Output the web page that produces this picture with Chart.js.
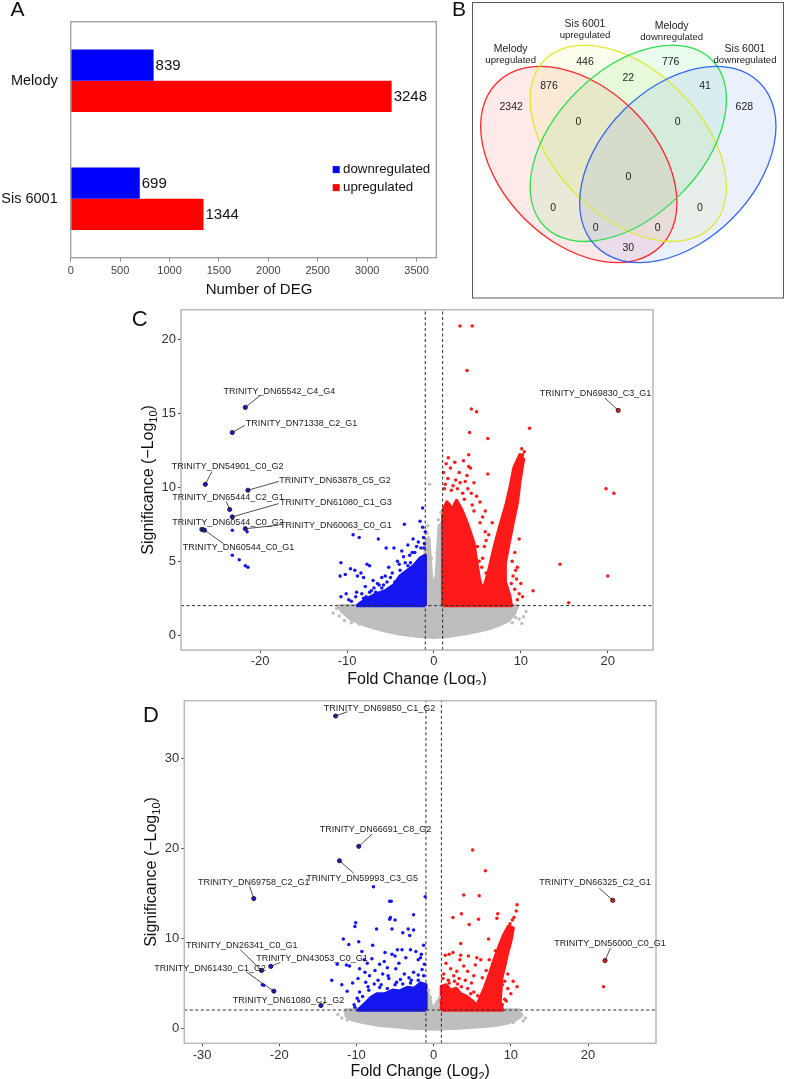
<!DOCTYPE html>
<html>
<head>
<meta charset="utf-8">
<script src="https://cdn.jsdelivr.net/npm/chart.js@4.4.0/dist/chart.umd.min.js"></script>
<style>
  html, body { margin: 0; padding: 0; background: #fff; }
  body { width: 785px; height: 1079px; position: relative; overflow: hidden; }
  canvas { position: absolute; }
</style>
</head>
<body>
<canvas id="barA" width="470" height="300" style="left:0;top:0"></canvas>
<canvas id="vennB" width="320" height="302" style="left:465px;top:0"></canvas>
<canvas id="volC" width="785" height="385" style="left:0;top:300px"></canvas>
<canvas id="volD" width="785" height="394" style="left:0;top:685px"></canvas>
<script>
// ---------- A: number of DEG ----------
const samples = ['Melody', 'Sis 6001'];
const downCounts = [839, 699];
const upCounts = [3248, 1344];
const degTicks = [0, 500, 1000, 1500, 2000, 2500, 3000, 3500];
const degMax = 3700;

// ---------- B: venn ----------
const setNames = [['Melody', 'upregulated'], ['Sis 6001', 'upregulated'], ['Melody', 'downregulated'], ['Sis 6001', 'downregulated']];
const vennCounts = [2342, 876, 446, 22, 776, 41, 628, 0, 0, 0, 0, 0, 0, 0, 30];

// ---------- C: Melody volcano ----------
const fcCut = 1;
const sigCut = 2;
const fcTicksC = [-20, -10, 0, 10, 20];
const sigTicksC = [0, 5, 10, 15, 20];
const cGenes = ['TRINITY_DN65542_C4_G4', 'TRINITY_DN71338_C2_G1', 'TRINITY_DN54901_C0_G2', 'TRINITY_DN63878_C5_G2',
  'TRINITY_DN65444_C2_G1', 'TRINITY_DN61080_C1_G3', 'TRINITY_DN60544_C0_G2', 'TRINITY_DN60063_C0_G1',
  'TRINITY_DN60544_C0_G1', 'TRINITY_DN69830_C3_G1'];
const cGeneFC = [-21.7, -23.2, -26.3, -21.4, -23.5, -23.2, -26.7, -21.7, -26.4, 21.2];
const cGeneSig = [15.4, 13.7, 10.2, 9.8, 8.5, 8.0, 7.15, 7.2, 7.1, 15.2];
const cGray = [[-11.2, 1.8], [-10.9, 1.3], [-10.3, 1.0], [-9.5, 0.85], [-8.6, 0.75], [-11.6, 1.5], [9.8, 1.1], [10.3, 1.25],
  [10.1, 0.8], [9.4, 1.2], [9.0, 0.85], [10.6, 1.6], [-0.5, 10.2], [0.5, 7.8], [0.6, 7.0], [-0.7, 7.4], [-0.8, 6.9],
  [0.8, 8.3], [-0.3, 5.2], [0.35, 5.6]];
const cGrayDense = [[-11, 2], [-10.6, 1.6], [-9.6, 1.1], [-8, 0.7], [-6, 0.35], [-4, 0.1], [-2, -0.05], [0, -0.15], [2, -0.05],
  [4, 0.15], [6, 0.4], [7.5, 0.7], [8.6, 1.0], [9.3, 1.5], [9.6, 2], [1, 2], [1, 7.6], [0.6, 7.4], [0.3, 4.2], [0, 3],
  [-0.3, 4], [-0.6, 6.6], [-1, 6.2], [-1, 2]];
const cBlue = [[-23.2, 7.1], [-21.5, 7.0], [-23.2, 5.4], [-22.4, 5.1], [-21.7, 4.7], [-21.4, 4.6],
  [-9.3, 6.8], [-8.6, 6.6], [-6.4, 6.5], [-5.5, 5.9], [-10.7, 4.9], [-10.8, 4.0], [-10.2, 4.1], [-9.6, 4.5], [-9.1, 4.4],
  [-8.8, 4.0], [-8.4, 4.2], [-7.7, 4.8], [-8.1, 3.9], [-10.7, 2.6], [-10.1, 2.8], [-7.4, 4.7], [-6.9, 3.2], [-6.5, 3.5],
  [-7.2, 3.0], [-6.0, 3.9], [-5.8, 3.4], [-5.2, 4.6], [-4.8, 4.2], [-7.8, 2.6], [-9.5, 2.3], [-9.0, 2.6], [-8.3, 2.8],
  [-6.2, 2.4], [-1.3, 8.6], [-1.6, 7.7], [-3.4, 7.5], [-1.0, 7.0], [-2.4, 6.5], [-1.2, 6.6], [-4.6, 5.9], [-3.7, 5.7],
  [-2.8, 5.4], [-4.2, 5.0], [-3.3, 4.9], [-2.0, 6.0], [-5.6, 4.0], [-4.5, 3.6], [-3.9, 4.4], [-6.7, 2.9], [-5.0, 2.7],
  [-4.4, 2.9], [-3.0, 4.7], [-2.5, 5.6], [-1.8, 6.3], [-1.1, 6.2], [-1.15, 5.9], [-1.3, 7.3],
  [-7.9, 3.3], [-7.0, 3.7], [-6.3, 3.4], [-5.4, 3.6], [-8.9, 2.9], [-9.8, 2.4], [-3.5, 5.3], [-4.0, 4.8], [-2.2, 5.6],
  [-1.5, 5.9], [-5.0, 3.9], [-6.0, 3.2], [-7.4, 2.9], [-8.1, 2.5], [-3.0, 6.1], [-2.7, 4.9]];
const cBlueDense = [[-1, 2], [-1, 5.4], [-1.6, 5.2], [-2.3, 4.7], [-3, 4.4], [-3.9, 4.0], [-4.6, 3.4], [-5.6, 3.0],
  [-6.6, 2.8], [-7.6, 2.5], [-8.4, 2.2], [-8.8, 2]];
const cRed = [[3.0, 20.9], [4.4, 20.9], [3.8, 17.9], [4.3, 15.3], [4.9, 15.1], [4.1, 13.7], [6.2, 13.3], [11.0, 14.0],
  [19.8, 9.9], [20.7, 9.6], [14.5, 4.8], [20.0, 4.0], [15.5, 2.2], [11.4, 3.0], [1.65, 12.0], [4.2, 11.3], [4.0, 11.4],
  [3.8, 10.8], [2.5, 10.5], [3.0, 10.3], [6.2, 10.9], [5.9, 8.4], [6.7, 7.6], [4.9, 9.4], [5.3, 7.6], [5.9, 7.0],
  [6.0, 6.4], [5.0, 6.0], [10.1, 12.6], [10.4, 12.4], [10.2, 12.2], [9.9, 11.4], [1.3, 10.2], [2.0, 9.8], [4.6, 8.4],
  [4.4, 8.8], [9.3, 3.1], [9.8, 2.8], [9.6, 4.6], [10.0, 3.5], [9.1, 4.0], [9.5, 3.8], [6.9, 5.0], [7.1, 3.6], [3.5, 9.2],
  [1.8, 8.8], [5.6, 5.2], [5.2, 5.0], [9.7, 11.9],
  [1.2, 9.9], [1.6, 10.6], [2.2, 10.1], [2.7, 9.9], [3.3, 9.6], [3.9, 9.9], [4.3, 9.6], [3.6, 10.4], [2.9, 11.0],
  [1.9, 11.3], [4.6, 10.3], [1.1, 11.0], [2.4, 11.7], [3.4, 11.8], [4.0, 12.2], [1.4, 11.6], [5.3, 9.0], [5.6, 8.0],
  [5.8, 6.0], [6.3, 6.8], [5.5, 4.6], [6.0, 4.2], [9.0, 5.0], [9.3, 5.6], [9.8, 6.5], [8.9, 3.5], [9.6, 2.4], [10.2, 2.6],
  [9.4, 4.4]];
const cRedDense = [[1, 2], [1, 8.4], [1.5, 9.0], [2.1, 8.5], [2.6, 9.1], [3.1, 8.6], [3.6, 7.9], [4.1, 7.1], [4.6, 6.2],
  [4.9, 5.0], [5.2, 3.9], [5.5, 3.1], [5.9, 3.5], [6.4, 4.6], [7.0, 6.1], [7.6, 7.4], [8.3, 8.8], [8.8, 10.1], [9.2, 11.3],
  [9.9, 12.2], [10.3, 11.9], [9.9, 10.5], [9.6, 9.0], [9.1, 7.6], [8.7, 6.4], [8.2, 4.9], [8.2, 3.6], [8.7, 2.7], [8.9, 2]];

// ---------- D: Sis 6001 volcano ----------
const fcTicksD = [-30, -20, -10, 0, 10, 20];
const sigTicksD = [0, 10, 20, 30];
const dGenes = ['TRINITY_DN69850_C1_G2', 'TRINITY_DN66691_C8_G2', 'TRINITY_DN59993_C3_G5', 'TRINITY_DN69758_C2_G1',
  'TRINITY_DN26341_C0_G1', 'TRINITY_DN43053_C0_G1', 'TRINITY_DN61430_C1_G2', 'TRINITY_DN61080_C1_G2',
  'TRINITY_DN66325_C2_G1', 'TRINITY_DN56000_C0_G1'];
const dGeneFC = [-12.7, -9.7, -12.2, -23.3, -22.3, -21.1, -20.7, -14.6, 23.2, 22.2];
const dGeneSig = [34.7, 20.2, 18.6, 14.4, 6.4, 6.85, 4.1, 2.5, 14.2, 7.5];
const dGray = [[-11.9, 1.1], [-12.4, 1.5], [-11.2, 0.9], [11.9, 1.1], [11.4, 1.5], [10.9, 1.3], [11.6, 0.8], [-0.65, 4.2],
  [-0.4, 3.4], [0.6, 2.6], [0.8, 3.4], [10.3, 0.6], [-10.5, 1.6]];
const dGrayDense = [[-11.5, 2], [-11.3, 1.3], [-10.5, 0.9], [-9, 0.6], [-7, 0.3], [-5, 0.15], [-3, 0.0], [0, -0.12], [3, 0.0],
  [6, 0.15], [8, 0.3], [9.5, 0.55], [10.5, 0.9], [11.3, 1.3], [11, 2], [1, 2], [1, 3.3], [0.5, 3.0], [0.2, 2.4], [0, 2.1],
  [-0.3, 2.5], [-0.7, 3.8], [-1, 4.0], [-1, 2]];
const dBlue = [[-22.2, 4.8], [-22.0, 4.75],
  [-7.8, 15.7], [-5.7, 14.1], [-5.7, 12.1], [-10.1, 11.7], [-10.2, 11.3], [-7.4, 11.0], [-11.7, 9.9], [-11.0, 9.3],
  [-9.7, 9.6], [-7.9, 9.2], [-9.3, 8.5], [-6.3, 8.4], [-12.5, 7.1], [-11.3, 7.0], [-10.9, 6.9], [-13.2, 5.3], [-11.9, 4.8],
  [-11.2, 4.1], [-1.1, 14.6], [-5.5, 14.1], [-2.6, 12.6], [-5.6, 12.3], [-5.0, 12.0], [-5.4, 11.0], [-4.0, 10.6],
  [-3.3, 11.0], [-2.6, 10.9], [-3.1, 10.3], [-4.7, 8.7], [-4.1, 8.7], [-3.0, 8.7], [-2.3, 8.5], [-5.4, 8.2], [-5.0, 8.0],
  [-9.0, 7.6], [-8.6, 7.2], [-8.0, 7.7], [-9.6, 6.6], [-8.9, 6.2], [-8.3, 5.8], [-7.6, 6.4], [-7.0, 7.1], [-6.6, 6.0],
  [-6.0, 6.7], [-9.8, 5.5], [-7.2, 5.3], [-5.8, 5.5], [-10.5, 5.0], [-8.8, 5.1], [-6.4, 7.4], [-4.5, 7.2], [-3.6, 7.8],
  [-2.0, 7.6], [-1.6, 8.2], [-1.3, 9.2], [-1.5, 6.5], [-2.6, 6.2], [-3.8, 6.0], [-4.9, 6.6], [-5.9, 5.8], [-3.2, 5.6],
  [-4.3, 5.4], [-2.0, 5.9], [-1.2, 7.1], [-1.7, 7.8], [-9.9, 3.3], [-10.3, 2.6], [-9.6, 4.0], [-8.5, 4.6], [-7.7, 4.9],
  [-6.8, 4.8], [-4.8, 5.1], [-2.9, 5.3], [-1.3, 5.8],
  [-9.2, 3.5], [-8.4, 4.2], [-7.0, 4.5], [-6.0, 4.4], [-5.0, 4.8], [-4.0, 4.9], [-3.0, 5.0], [-2.0, 5.3], [-10.2, 2.3],
  [-9.7, 3.0]];
const dBlueDense = [[-1, 2], [-1, 4.8], [-1.7, 5.0], [-2.5, 4.4], [-3.4, 4.5], [-4.4, 4.1], [-5.3, 4.2], [-6.3, 3.8],
  [-7.3, 3.8], [-8.1, 3.4], [-8.8, 2.8], [-9.4, 2.3], [-9.8, 2]];
const dRed = [[22.0, 4.6], [5.05, 19.8], [6.7, 17.5], [3.9, 14.8], [5.9, 14.7], [2.5, 12.3], [3.6, 12.7], [4.6, 11.5],
  [5.8, 12.1], [7.1, 9.9], [8.3, 12.7], [8.2, 12.2], [10.8, 13.7], [10.7, 13.0], [10.4, 12.3], [10.2, 12.0], [9.9, 11.6],
  [3.5, 9.4], [2.5, 8.4], [1.5, 8.1], [2.0, 8.2], [3.5, 8.1], [3.4, 7.6], [4.5, 8.0], [5.6, 7.8], [6.1, 7.6], [5.4, 7.0],
  [1.6, 7.2], [2.2, 6.6], [3.0, 6.3], [3.9, 6.9], [4.4, 6.3], [1.3, 6.0], [2.6, 5.8], [3.3, 5.5], [4.1, 5.3], [4.9, 5.0],
  [5.2, 5.8], [1.9, 5.3], [10.8, 4.6], [10.0, 3.8], [10.3, 5.2], [9.6, 4.4], [9.2, 3.2], [8.9, 2.6], [9.8, 10.5],
  [9.5, 9.0], [9.3, 7.8],
  [1.2, 5.5], [2.0, 5.0], [2.7, 5.2], [3.6, 4.6], [4.4, 4.4], [5.2, 4.0], [5.7, 3.6], [1.5, 4.6], [3.1, 4.9], [4.8, 3.8],
  [6.3, 5.6], [6.8, 6.4], [7.2, 7.6], [8.0, 8.6], [9.6, 6.0], [9.2, 5.2], [9.4, 3.0], [8.9, 4.8]];
const dRedDense = [[1, 2], [1, 4.6], [1.6, 4.8], [2.2, 4.2], [2.9, 4.4], [3.5, 3.8], [4.3, 3.5], [5.0, 3.0], [5.6, 2.5],
  [6.0, 3.3], [6.6, 4.5], [7.2, 5.9], [7.8, 7.5], [8.5, 9.1], [9.1, 10.4], [9.7, 11.3], [10.3, 11.1], [10.0, 9.7],
  [9.5, 8.1], [9.2, 6.9], [8.8, 5.5], [8.7, 4.1], [8.6, 3.0], [8.9, 2]];

// ---------- layout bits (not data) ----------
const FONT = '"Liberation Sans", Arial, Helvetica, sans-serif';
const BLUE = '#1616f2', RED = '#ff1a1a', GRAY = '#bebebe';

Chart.defaults.font.family = FONT;
Chart.defaults.color = '#222';
Chart.defaults.animation = false;
Chart.defaults.events = [];
Chart.defaults.plugins.legend.display = false;
Chart.defaults.plugins.tooltip.enabled = false;

function letter(ctx, t, x, y, size) {
  ctx.save();
  ctx.font = size + 'px ' + FONT;
  ctx.fillStyle = '#111';
  ctx.textBaseline = 'alphabetic';
  ctx.fillText(t, x, y);
  ctx.restore();
}

// ---------- A ----------
new Chart(document.getElementById('barA'), {
  type: 'bar',
  data: {
    labels: samples,
    datasets: [
      { label: 'downregulated', data: downCounts, backgroundColor: '#0000ff', barPercentage: 1, categoryPercentage: 0.53 },
      { label: 'upregulated', data: upCounts, backgroundColor: '#ff0000', barPercentage: 1, categoryPercentage: 0.53 }
    ]
  },
  options: {
    indexAxis: 'y',
    responsive: false,
    layout: { padding: { top: 12.3, right: 33.7, left: 0, bottom: 0 } },
    scales: {
      x: {
        min: 0, max: degMax,
        afterBuildTicks: s => { s.ticks = degTicks.map(v => ({ value: v })); },
        afterFit: s => { s.height = 42.3; },
        grid: { drawOnChartArea: false, tickLength: 4, color: '#8c8c8c' },
        border: { display: false },
        ticks: { font: { size: 11 }, color: '#444', padding: 3, maxRotation: 0, callback: v => String(v) }
      },
      y: {
        afterFit: s => { s.width = 70.7; },
        grid: { display: false, drawTicks: false },
        border: { display: false },
        ticks: { font: { size: 14.5 }, color: '#111', padding: 13 }
      }
    }
  },
  plugins: [{
    id: 'barDecor',
    afterDatasetsDraw(chart) {
      const { ctx, chartArea: a } = chart;
      ctx.save();
      ctx.strokeStyle = '#9a9a9a';
      ctx.lineWidth = 1.3;
      ctx.strokeRect(a.left, a.top, a.right - a.left, a.bottom - a.top);
      ctx.font = '15px ' + FONT;
      ctx.fillStyle = '#111';
      ctx.textBaseline = 'middle';
      chart.data.datasets.forEach((ds, i) => {
        chart.getDatasetMeta(i).data.forEach((bar, j) => ctx.fillText(String(ds.data[j]), bar.x + 2, bar.y + 1));
      });
      // legend
      ctx.font = '13.3px ' + FONT;
      chart.data.datasets.forEach((ds, i) => {
        const y = 169.7 + i * 18;
        ctx.fillStyle = ds.backgroundColor;
        ctx.fillRect(332.7, y - 3.6, 7, 7);
        ctx.fillStyle = '#111';
        ctx.fillText(ds.label, 343, y);
      });
      ctx.font = '15px ' + FONT;
      ctx.textAlign = 'center';
      ctx.fillText('Number of DEG', 259, 290);
      ctx.restore();
      letter(ctx, 'A', 10.5, 15.5, 21);
      letter(ctx, 'B', 452, 16, 21);
    }
  }]
});

// ---------- B ----------
const vennShapes = [[0.3556, 0.4297, 0.3616, 0.2397, -45], [0.5103, 0.4959, 0.369, 0.228, -45],
  [0.5103, 0.4959, 0.369, 0.228, 45], [0.665, 0.4297, 0.3616, 0.2397, 45]];
const vennColors = ['255,40,40', '222,232,50', '46,224,80', '55,105,240'];
const setNamePos = [[0.1428, 0.7906], [0.375, 0.8688], [0.6459, 0.8625], [0.875, 0.7906]];
const vennSpots = [[0.1444, 0.6084], [0.2625, 0.6759], [0.375, 0.7509], [0.5103, 0.6991], [0.6428, 0.7509],
  [0.75, 0.6759], [0.8728, 0.6084], [0.3541, 0.5616], [0.6647, 0.5616], [0.5103, 0.3916], [0.2759, 0.2928],
  [0.7344, 0.2928], [0.4084, 0.2303], [0.6022, 0.2303], [0.5103, 0.1678]];

new Chart(document.getElementById('vennB'), {
  type: 'scatter',
  data: { datasets: [{ data: vennSpots.map(p => ({ x: p[0], y: p[1] })), pointRadius: 0 }] },
  options: {
    responsive: false,
    layout: { padding: 0 },
    scales: {
      x: { type: 'linear', min: 0, max: 1, display: false },
      y: { type: 'linear', min: 0, max: 302 / 320, display: false }
    }
  },
  plugins: [{
    id: 'venn',
    beforeDatasetsDraw(chart) {
      const { ctx, scales: { x, y } } = chart;
      ctx.save();
      ctx.strokeStyle = '#5a5a5a';
      ctx.lineWidth = 1;
      ctx.strokeRect(7.5, 2.5, 311, 295.5);
      const shape = s => {
        const cx = x.getPixelForValue(s[0]), cy = y.getPixelForValue(s[1]);
        const rx = x.getPixelForValue(s[0] + s[2]) - cx, ry = x.getPixelForValue(s[0] + s[3]) - cx;
        ctx.beginPath();
        ctx.ellipse(cx, cy, rx, ry, -s[4] * Math.PI / 180, 0, Math.PI * 2);
      };
      vennShapes.forEach((s, i) => { shape(s); ctx.fillStyle = 'rgba(' + vennColors[i] + ',0.1)'; ctx.fill(); });
      ctx.lineWidth = 1.3;
      vennShapes.forEach((s, i) => { shape(s); ctx.strokeStyle = 'rgb(' + vennColors[i] + ')'; ctx.stroke(); });
      ctx.restore();
    },
    afterDatasetsDraw(chart) {
      const { ctx, scales: { x, y } } = chart;
      ctx.save();
      ctx.fillStyle = '#222';
      ctx.textAlign = 'center';
      ctx.textBaseline = 'middle';
      ctx.font = '10.5px ' + FONT;
      chart.getDatasetMeta(0).data.forEach((pt, i) => ctx.fillText(String(vennCounts[i]), pt.x, pt.y));
      setNames.forEach((n, i) => {
        const px = x.getPixelForValue(setNamePos[i][0]), py = y.getPixelForValue(setNamePos[i][1]);
        ctx.font = '10.5px ' + FONT;
        ctx.fillText(n[0], px, py);
        ctx.font = '9.6px ' + FONT;
        ctx.fillText(n[1], px, py + 11.8);
      });
      ctx.restore();
    }
  }]
});

// ---------- C / D volcano ----------
function drawTitle(ctx, x, y, rot, parts) {
  ctx.save();
  ctx.translate(x, y);
  ctx.rotate(rot);
  ctx.fillStyle = '#111';
  ctx.textBaseline = 'alphabetic';
  let w = 0;
  parts.forEach(p => { ctx.font = p[1] + 'px ' + FONT; w += ctx.measureText(p[0]).width; });
  let cx = -w / 2;
  parts.forEach(p => {
    ctx.font = p[1] + 'px ' + FONT;
    ctx.fillText(p[0], cx, 5.8 + (p[2] || 0));
    cx += ctx.measureText(p[0]).width;
  });
  ctx.restore();
}

function volcano(id, v) {
  const pts = a => a.map(p => ({ x: p[0], y: p[1] }));
  const poly = (a, col) => ({
    data: pts(a.concat([a[0]])), showLine: true, fill: 'shape', tension: 0,
    backgroundColor: col, borderColor: col, borderWidth: 3.4, borderJoinStyle: 'round', pointRadius: 0
  });
  const dots = (a, col) => ({ data: pts(a), backgroundColor: col, borderWidth: 0, pointRadius: 1.75 });
  const dash = a => ({ data: pts(a), showLine: true, borderColor: '#2a2a2a', borderWidth: 1, borderDash: [3, 2.5], pointRadius: 0 });
  const genePts = v.fc.map((f, i) => [f, v.sig[i]]);
  const labeled = (sign, col) => ({
    data: pts(genePts.filter(p => Math.sign(p[0]) === sign)),
    backgroundColor: col, borderColor: '#1a1a1a', borderWidth: 0.9, pointRadius: 2.1
  });
  new Chart(document.getElementById(id), {
    type: 'scatter',
    data: {
      datasets: [
        labeled(-1, BLUE), labeled(1, RED),
        dash([[v.xr[0], sigCut], [v.xr[1], sigCut]]),
        dash([[-fcCut, v.yr[0]], [-fcCut, v.yr[1]]]),
        dash([[fcCut, v.yr[0]], [fcCut, v.yr[1]]]),
        dots(v.blue, BLUE), dots(v.red, RED), dots(v.gray, GRAY),
        poly(v.blueDense, BLUE), poly(v.redDense, RED), poly(v.grayDense, GRAY)
      ]
    },
    options: {
      responsive: false,
      layout: { padding: { top: v.frame[1], right: v.w - v.frame[2], left: 0, bottom: 0 } },
      scales: {
        x: {
          type: 'linear', min: v.xr[0], max: v.xr[1],
          afterBuildTicks: s => { s.ticks = v.xt.map(t => ({ value: t })); },
          afterFit: s => { s.height = v.h - v.frame[3]; },
          grid: { drawOnChartArea: false, tickLength: 3, color: '#333', lineWidth: 0.9 },
          border: { display: false },
          ticks: { font: { size: 13 }, color: '#333', padding: 1, maxRotation: 0 }
        },
        y: {
          type: 'linear', min: v.yr[0], max: v.yr[1],
          afterBuildTicks: s => { s.ticks = v.yt.map(t => ({ value: t })); },
          afterFit: s => { s.width = v.frame[0]; },
          grid: { drawOnChartArea: false, tickLength: 3, color: '#333', lineWidth: 0.9 },
          border: { display: false },
          ticks: { font: { size: 13 }, color: '#333', padding: 2 }
        }
      }
    },
    plugins: [{
      id: 'volDecor',
      afterDatasetsDraw(chart) {
        const { ctx, chartArea: a, scales: { x, y } } = chart;
        ctx.save();
        ctx.strokeStyle = '#b8b8b8';
        ctx.lineWidth = 1.5;
        ctx.strokeRect(a.left, a.top, a.right - a.left, a.bottom - a.top);
        ctx.font = '9px ' + FONT;
        ctx.fillStyle = '#222';
        ctx.strokeStyle = '#222';
        ctx.lineWidth = 0.8;
        ctx.textBaseline = 'middle';
        v.genes.forEach((g, i) => {
          const t = v.textAt[i];
          ctx.beginPath();
          ctx.moveTo(x.getPixelForValue(t[2]), y.getPixelForValue(t[3]));
          ctx.lineTo(x.getPixelForValue(v.fc[i]), y.getPixelForValue(v.sig[i]));
          ctx.stroke();
          ctx.fillText(g, x.getPixelForValue(t[0]), y.getPixelForValue(t[1]));
        });
        ctx.restore();
        const cx = (a.left + a.right) / 2, cy = (a.top + a.bottom) / 2;
        drawTitle(ctx, cx, v.xTitleY, 0, [['Fold Change (Log', 16], ['2', 11, 4], [')', 16]]);
        drawTitle(ctx, v.yTitleX, cy, -Math.PI / 2, [['Significance (\u2212Log', 16], ['10', 11, 4], [')', 16]]);
        letter(ctx, v.letter[0], v.letter[1], v.letter[2], 22);
      }
    }]
  });
}

volcano('volC', {
  w: 785, h: 385, frame: [181, 7, 653, 350], xr: [-29.1, 25.2], yr: [-1.0, 22.0], xt: fcTicksC, yt: sigTicksC,
  genes: cGenes, fc: cGeneFC, sig: cGeneSig,
  gray: cGray, grayDense: cGrayDense, blue: cBlue, blueDense: cBlueDense, red: cRed, redDense: cRedDense,
  textAt: [[-24.2, 16.47, -20.0, 16.2], [-21.65, 14.3, -21.75, 14.2], [-30.15, 11.39, -25.55, 11.06],
    [-17.8, 10.46, -17.85, 10.4], [-30.1, 9.32, -23.9, 9.05], [-17.7, 8.98, -17.85, 8.9], [-30.1, 7.6, -26.5, 7.33],
    [-17.7, 7.44, -17.85, 7.44], [-28.9, 5.92, -24.2, 6.19], [12.18, 16.35, 19.66, 16.04]],
  xTitleY: 378, yTitleX: 147.3, letter: ['C', 131.7, 26]
});

volcano('volD', {
  w: 785, h: 394, frame: [184.3, 15.7, 656, 358.3], xr: [-32.3, 28.8], yr: [-1.7, 36.4], xt: fcTicksD, yt: sigTicksD,
  genes: dGenes, fc: dGeneFC, sig: dGeneSig,
  gray: dGray, grayDense: dGrayDense, blue: dBlue, blueDense: dBlueDense, red: dRed, redDense: dRedDense,
  textAt: [[-14.25, 35.56, -11.14, 35.18], [-14.77, 22.03, -7.98, 21.56], [-16.49, 16.67, -10.36, 17.22],
    [-30.52, 16.22, -23.83, 15.73], [-32.07, 9.14, -25.04, 8.7], [-22.97, 7.7, -19.86, 7.29],
    [-36.18, 6.67, -24.26, 6.22], [-26.04, 3.03, -14.03, 2.81], [13.69, 16.18, 21.46, 15.55], [15.63, 9.44, 22.89, 8.89]],
  xTitleY: 385.5, yTitleX: 150, letter: ['D', 143, 36.7]
});
</script>
</body>
</html>
